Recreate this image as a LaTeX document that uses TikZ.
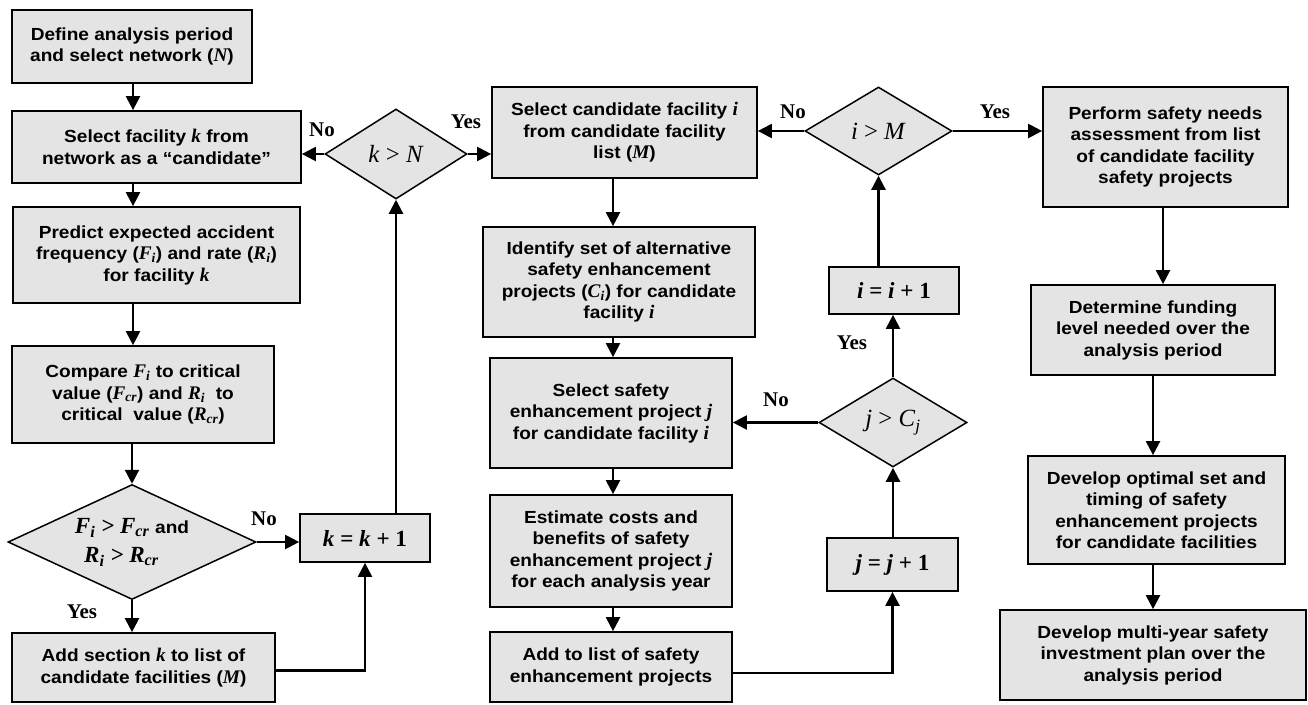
\documentclass[tikz,border=0pt]{standalone}
\usepackage{fontspec}
\setmainfont{Liberation Sans}[FakeStretch=1.09]
\newfontfamily\tms{Liberation Serif}[Scale=1.1]
\usetikzlibrary{arrows.meta,shapes.geometric}
\definecolor{boxgray}{RGB}{228,228,228}
\newcommand{\vm}[1]{{\tms\itshape #1}}
\newcommand{\vb}[1]{{\tms\bfseries\itshape #1}}
\begin{document}
\begin{tikzpicture}[x=1pt,y=-1pt,
  box/.style={draw, line width=1.7pt, fill=boxgray, align=center, inner sep=2pt,
    font=\bfseries\fontsize{17.5}{21.5}\selectfont},
  dia/.style={diamond, draw, line width=1.5pt, fill=boxgray, inner sep=0pt, align=center,
    font=\tms\fontsize{22.5}{24}\selectfont},
  conn/.style={line width=2.2pt},
  arr/.style={conn, -{Triangle[length=14pt,width=14pt]}},
  lab/.style={font=\tms\bfseries\fontsize{19}{20}\selectfont, inner sep=0pt}]
\useasboundingbox (0,0) rectangle (1308,704);
\fill[white] (0,0) rectangle (1308,704);
% columns
\coordinate (xA) at (133,0);
\coordinate (xB) at (613,0);
\coordinate (xC) at (1163,0);
\coordinate (xD) at (1153,0);
% left column
\node[box, minimum width=240pt, minimum height=73pt] (b1) at (132,46.5)
  {Define analysis period\\and select network (\vm{N})};
\node[box, minimum width=289pt, minimum height=72pt] (b2) at (156.5,147)
  {Select facility \vm{k} from\\network as a “candidate”};
\node[box, minimum width=287pt, minimum height=96pt] (b3) at (156.5,255)
  {Predict expected accident\\frequency (\vb{F}\textsubscript{\vb{i}}) and rate (\vb{R}\textsubscript{\vb{i}})\\for facility \vm{k}};
\node[box, minimum width=262pt, minimum height=97pt] (b4) at (143,394.5)
  {Compare \vb{F}\textsubscript{\vb{i}} to critical\\value (\vb{F}\textsubscript{\vb{cr}}) and \vb{R}\textsubscript{\vb{i}}\ \ to\\critical\ \ value (\vb{R}\textsubscript{\vb{cr}})};
\node[dia, aspect=2.16, minimum width=248pt, minimum height=115pt,
  font=\tms\bfseries\itshape\fontsize{21}{29}\selectfont] (d1) at (132,542)
  {F\textsubscript{i} > F\textsubscript{cr} {\rmfamily\upshape\bfseries\fontsize{17.5}{21}\selectfont and}\\
   R\textsubscript{i} > R\textsubscript{cr}\phantom{\rmfamily\upshape\bfseries\fontsize{17.5}{21}\selectfont aa}};
\node[box, minimum width=263pt, minimum height=69pt] (b5) at (143.5,667.5)
  {Add section \vm{k} to list of\\candidate facilities (\vm{M})};
\node[box, minimum width=130pt, minimum height=48pt, font=\tms\bfseries\itshape\fontsize{21}{22}\selectfont] (b6) at (365,538)
  {k {\upshape =} k {\upshape + 1}};
\node[dia, aspect=1.58, minimum width=142pt, minimum height=90pt] (d2) at (396,154)
  {\textit{k} > \textit{N}};
% middle column
\node[box, minimum width=265pt, minimum height=91pt] (b7) at (624.5,132.5)
  {Select candidate facility \vm{i}\\from candidate facility\\list (\vm{M})};
\node[box, minimum width=272pt, minimum height=110pt] (b8) at (619,282)
  {Identify set of alternative\\safety enhancement\\projects (\vm{C}\textsubscript{\vm{i}}) for candidate\\facility \vm{i}};
\node[box, minimum width=242pt, minimum height=110pt] (b9) at (611,413)
  {Select safety\\enhancement project \vm{j}\\for candidate facility \vm{i}};
\node[box, minimum width=242pt, minimum height=112pt] (b10) at (611,551)
  {Estimate costs and\\benefits of safety\\enhancement project \vm{j}\\for each analysis year};
\node[box, minimum width=242pt, minimum height=70pt] (b11) at (611,667)
  {Add to list of safety\\enhancement projects};
% loop column
\node[dia, aspect=1.66, minimum width=148pt, minimum height=89pt] (d3) at (893,422.5)
  {\textit{j} > \textit{C}\textsubscript{\textit{j}}};
\node[box, minimum width=131pt, minimum height=53pt, font=\tms\bfseries\fontsize{21}{22}\selectfont] (b12) at (892.5,564.5)
  {\textit{j} = \textit{j} + 1};
\node[box, minimum width=130pt, minimum height=47pt, font=\tms\bfseries\fontsize{21}{22}\selectfont] (b13) at (894,290.5)
  {\textit{i} = \textit{i} + 1};
\node[dia, aspect=1.67, minimum width=147pt, minimum height=88pt] (d4) at (878.5,131)
  {\textit{i} > \textit{M}};
% right column
\node[box, minimum width=245pt, minimum height=120pt] (b14) at (1165.5,147)
  {Perform safety needs\\assessment from list\\of candidate facility\\safety projects};
\node[box, minimum width=244pt, minimum height=90pt] (b15) at (1153,330)
  {Determine funding\\level needed over the\\analysis period};
\node[box, minimum width=257pt, minimum height=108pt] (b16) at (1156.5,510)
  {Develop optimal set and\\timing of safety\\enhancement projects\\for candidate facilities};
\node[box, minimum width=306pt, minimum height=90pt] (b17) at (1153,655)
  {Develop multi-year safety\\investment plan over the\\analysis period};
% connectors
\draw[arr] (b1.south -| xA) -- (b2.north -| xA);
\draw[arr] (b2.south -| xA) -- (b3.north -| xA);
\draw[arr] (b3.south -| xA) -- (b4.north -| xA);
\draw[arr] (b4.south -| d1.north) -- (d1.north);
\draw[arr] (d1.south) -- (b5.north -| d1.south);
\draw[arr] (d1.east) -- (b6.west |- d1.east);
\draw[arr] ([yshift=-3pt]b5.east) -| (b6.south);
\draw[arr] (b6.north -| d2.south) -- (d2.south);
\draw[arr] (d2.west) -- (b2.east |- d2.west);
\draw[arr] (d2.east) -- (b7.west |- d2.east);
\draw[arr] (b7.south -| xB) -- (b8.north -| xB);
\draw[arr] (b8.south -| xB) -- (b9.north -| xB);
\draw[arr] (b9.south -| xB) -- (b10.north -| xB);
\draw[arr] (b10.south -| xB) -- (b11.north -| xB);
\draw[arr] ([yshift=-6pt]b11.east) -| (b12.south);
\draw[arr] (b12.north -| d3.south) -- (d3.south);
\draw[arr] (d3.west) -- (b9.east |- d3.west);
\draw[arr] (d3.north) -- (b13.south -| d3.north);
\draw[arr] (b13.north -| d4.south) -- (d4.south);
\draw[arr] (d4.west) -- (b7.east |- d4.west);
\draw[arr] (d4.east) -- (b14.west |- d4.east);
\draw[arr] (b14.south -| xC) -- (b15.north -| xC);
\draw[arr] (b15.south -| xD) -- (b16.north -| xD);
\draw[arr] (b16.south -| xD) -- (b17.north -| xD);
% labels
\node[lab] (l1) at (264,519) {No};
\node[lab] (l2) at (82,612) {Yes};
\node[lab] (l3) at (322,130) {No};
\node[lab] (l4) at (466,122) {Yes};
\node[lab] (l5) at (776,400) {No};
\node[lab] (l6) at (852,343) {Yes};
\node[lab] (l7) at (793,112) {No};
\node[lab] (l8) at (995,112) {Yes};
\end{tikzpicture}
\end{document}
